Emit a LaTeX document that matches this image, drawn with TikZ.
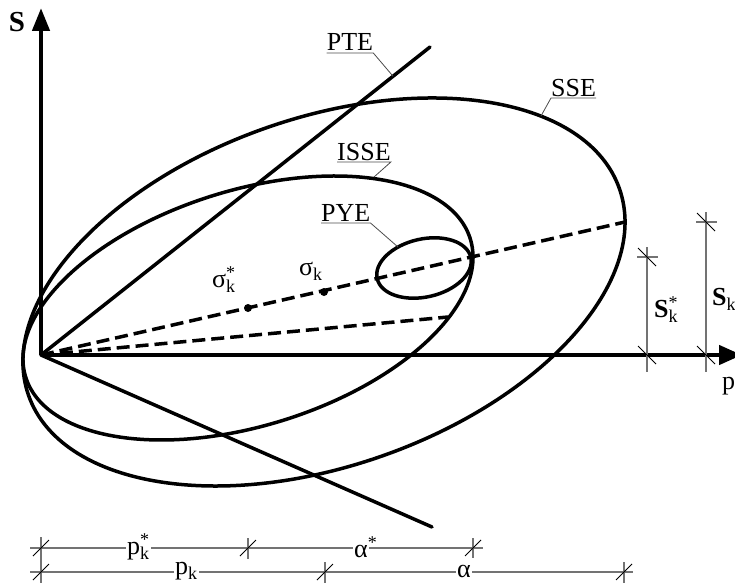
\documentclass[tikz,border=0pt]{standalone}
\usepackage{fontspec}
\setmainfont{Liberation Serif}
\usetikzlibrary{arrows.meta,calc}
\newcommand{\smallk}{\fontsize{18}{18}\selectfont k}
\newcommand{\subk}{\raisebox{-5pt}{\smallk}}
\newcommand{\subkstar}{\rlap{\raisebox{-5pt}{\smallk}}\raisebox{9pt}{\fontsize{18}{18}\selectfont *}}
\tikzset{
  curve/.style={line width=3.5pt},
  axisline/.style={line width=4.5pt},
  dashline/.style={line width=3.5pt, dash pattern=on 13pt off 6pt},
  dimline/.style={line width=1.2pt, draw=black!55},
  tickmark/.style={line width=1pt, draw=black},
  leader/.style={line width=0.8pt, draw=black!70},
  lbl/.style={font=\fontsize{26}{30}\selectfont, inner sep=0pt},
  dimlbl/.style={font=\fontsize{26}{30}\selectfont, inner sep=1.5pt, fill=white},
}
\newcommand{\slashtick}[1]{\draw[tickmark] ($(#1)+(-8,8)$) -- ($(#1)+(8,-8)$);}
\newcommand{\backtick}[1]{\draw[tickmark] ($(#1)+(-9,-9)$) -- ($(#1)+(9,9)$);}
\begin{document}
\begin{tikzpicture}[x=1pt,y=-1pt]
\useasboundingbox (0,0) rectangle (735,583);
% key points
\coordinate (O) at (41,355);
\coordinate (Stop) at (41,8);
\coordinate (pend) at (742,355);
\coordinate (C1) at (324,292);
\coordinate (C2) at (248,308);
\coordinate (C3) at (424,268);
\coordinate (E1) at (625,222);
\coordinate (E2) at (448,317);
\coordinate (PTEend) at (430,47);
\coordinate (Lend) at (432,527);

% ellipses
\draw[curve, rotate around={19.25:(C1)}] (C1) ellipse [x radius=313, y radius=174];
\draw[curve, rotate around={17.3:(C2)}] (C2) ellipse [x radius=232.8, y radius=117.7];
\draw[curve, rotate around={12.8:(C3)}] (C3) ellipse [x radius=48, y radius=29];

% straight lines
\draw[curve, line cap=round] (O) -- (PTEend);
\draw[curve, line cap=round] (O) -- (Lend);
\draw[dashline] (O) -- (E1);
\draw[dashline] (O) -- (E2);

% dots
\fill (C1) circle [radius=4];
\fill (C2) circle [radius=4];

% axes
\draw[axisline, -{Triangle[length=23pt,width=17pt]}] (O) -- (Stop);
\draw[axisline, -{Triangle[length=23pt,width=19pt]}] (O) -- (pend);
\node[font=\fontsize{29}{30}\selectfont\bfseries, inner sep=0pt] (Slbl) at (17,22) {S};
\node[lbl, anchor=base west] (plbl) at (722,389) {p};

% labelled curves
\node[lbl, anchor=base] (pte) at (350,51) {PTE};
\draw[leader] ([yshift=-2pt]pte.base west) -- ([yshift=-2pt]pte.base east) -- ($(O)!0.905!(PTEend)$);
\node[lbl, anchor=base west] (isse) at (337,160) {ISSE};
\draw[leader] ([yshift=-2pt]isse.base west) -- ([yshift=-2pt]isse.base east) -- (374,177);
\node[lbl, anchor=base west] (sse) at (551,96) {SSE};
\draw[leader] ([yshift=-2pt]sse.base east) -- ([yshift=-2pt]sse.base west) -- (541,116);
\node[lbl, anchor=base west] (pye) at (321,221) {PYE};
\draw[leader] ([yshift=-2pt]pye.base west) -- ([yshift=-2pt]pye.base east) -- (398,247);

\node[lbl, anchor=base west] (sigs) at (212,287) {σ\subkstar};
\node[lbl, anchor=base west] (sig) at (299,275) {σ\subk};

% right dimensions
\coordinate (V1t) at (647,257);
\coordinate (V1b) at (647,355);
\coordinate (V2t) at (706,222);
\coordinate (V2b) at (706,355);
\draw[dimline] ($(V1t)+(0,-10)$) -- ($(V1b)+(0,17)$);
\draw[dimline] ($(V1t)+(-10,0)$) -- ($(V1t)+(11,0)$);
\backtick{V1t}
\backtick{V1b}
\draw[dimline] ($(V2t)+(0,-10)$) -- ($(V2b)+(0,17)$);
\draw[dimline] ($(V2t)+(-10,0)$) -- ($(V2t)+(11,0)$);
\backtick{V2t}
\backtick{V2b}
\node[lbl, anchor=base west] (ssk) at (654,317) {\textbf{S}\subkstar};
\node[lbl, anchor=base west] (sk) at (712,305) {\textbf{S}\subk};

% bottom dimensions
\coordinate (A0) at (41,548);
\coordinate (A1) at (248,548);
\coordinate (A2) at (473,548);
\coordinate (B0) at (41,572);
\coordinate (B1) at (325,572);
\coordinate (B2) at (624,572);
\draw[dimline] (30,548) -- (483,548);
\draw[dimline] (30,572) -- (633,572);
\draw[dimline] (41,537) -- (41,583);
\draw[dimline] (248,538) -- (248,559);
\draw[dimline] (473,538) -- (473,558);
\draw[dimline] (325,562) -- (325,583);
\draw[dimline] (624,562) -- (624,583);
\slashtick{A0}
\slashtick{A1}
\slashtick{A2}
\slashtick{B0}
\slashtick{B1}
\slashtick{B2}
\node[dimlbl] (pks) at (138,547) {p\subkstar};
\node[dimlbl] (as) at (361,547) {α\rlap{\raisebox{9pt}{\fontsize{18}{18}\selectfont *}}\hspace{3pt}};
\node[dimlbl] (pk) at (186,571) {p\subk};
\node[dimlbl] (al) at (464,571) {α};
\end{tikzpicture}
\end{document}
